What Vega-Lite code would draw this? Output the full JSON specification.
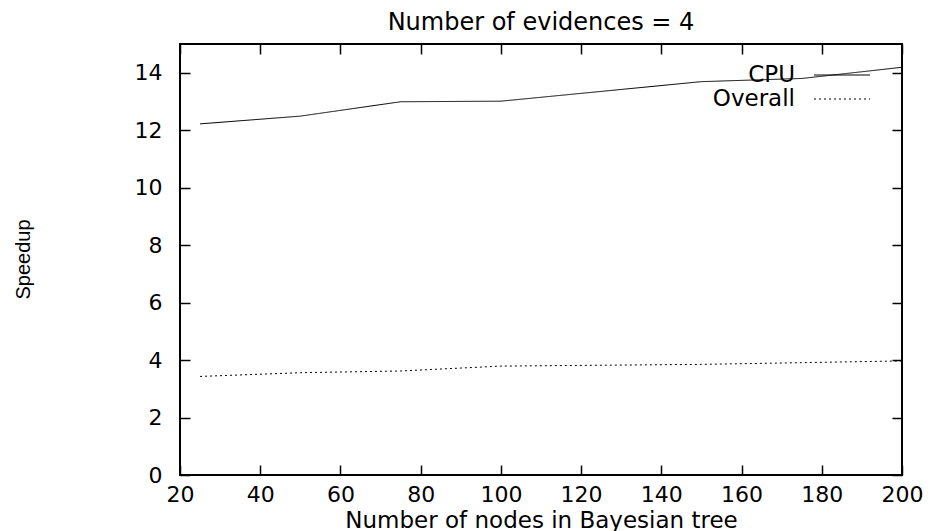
{
  "$schema": "https://vega.github.io/schema/vega-lite/v6.json",
  "autosize": {"type": "none"},
  "padding": {"left": 180, "top": 44, "right": 32, "bottom": 56},
  "width": 722,
  "height": 431,
  "background": "white",
  "title": {
    "text": "Number of evidences = 4",
    "font": "DejaVu Sans",
    "fontSize": 24,
    "fontWeight": "normal",
    "color": "black",
    "anchor": "middle",
    "offset": 8
  },
  "config": {
    "view": {"stroke": "black", "strokeWidth": 2},
    "axis": {
      "domain": false,
      "grid": false,
      "tickColor": "black",
      "tickWidth": 1.5,
      "tickSize": -10,
      "labelFont": "DejaVu Sans",
      "labelFontSize": 22,
      "labelColor": "black",
      "titleFont": "DejaVu Sans",
      "titleFontSize": 23,
      "titleFontWeight": "normal",
      "titleColor": "black"
    }
  },
  "data": {
    "values": [
      {"series": "CPU", "nodes": 25, "speedup": 12.22},
      {"series": "CPU", "nodes": 50, "speedup": 12.49},
      {"series": "CPU", "nodes": 75, "speedup": 12.99},
      {"series": "CPU", "nodes": 100, "speedup": 13.01},
      {"series": "CPU", "nodes": 150, "speedup": 13.69},
      {"series": "CPU", "nodes": 175, "speedup": 13.8},
      {"series": "CPU", "nodes": 200, "speedup": 14.19},
      {"series": "Overall", "nodes": 25, "speedup": 3.43},
      {"series": "Overall", "nodes": 50, "speedup": 3.56},
      {"series": "Overall", "nodes": 75, "speedup": 3.62},
      {"series": "Overall", "nodes": 100, "speedup": 3.79},
      {"series": "Overall", "nodes": 150, "speedup": 3.85},
      {"series": "Overall", "nodes": 175, "speedup": 3.91},
      {"series": "Overall", "nodes": 200, "speedup": 3.97}
    ]
  },
  "layer": [
    {
      "mark": {"type": "line", "color": "black", "strokeWidth": 1},
      "encoding": {
        "x": {
          "field": "nodes",
          "type": "quantitative",
          "scale": {"domain": [20, 200], "nice": false, "zero": false},
          "axis": {
            "title": "Number of nodes in Bayesian tree",
            "values": [20, 40, 60, 80, 100, 120, 140, 160, 180, 200],
            "labelPadding": 19,
            "labelFlush": false,
            "titleY": 52,
            "titleBaseline": "alphabetic"
          }
        },
        "y": {
          "field": "speedup",
          "type": "quantitative",
          "scale": {"domain": [0, 15], "nice": false},
          "axis": {
            "title": "Speedup",
            "titleFont": "Liberation Sans",
            "titleFontSize": 20,
            "values": [0, 2, 4, 6, 8, 10, 12, 14],
            "labelPadding": 28,
            "labelFlush": false,
            "titleX": -157,
            "titleY": 215,
            "titleAngle": -90,
            "titleAlign": "center",
            "titleBaseline": "middle"
          }
        },
        "strokeDash": {
          "field": "series",
          "type": "nominal",
          "scale": {"domain": ["CPU", "Overall"], "range": [[1, 0], [2, 3]]},
          "legend": {
            "title": null,
            "orient": "none",
            "legendX": 650.5,
            "legendY": 19.5,
            "padding": 0,
            "symbolType": "M-2.667,0H2.667",
            "symbolSize": 441,
            "symbolStrokeWidth": 1,
            "symbolStrokeColor": "black",
            "labelFont": "DejaVu Sans",
            "labelFontSize": 23,
            "labelColor": "black",
            "labelAlign": "right",
            "labelOffset": -58.5,
            "rowPadding": 0
          }
        }
      }
    },
    {
      "mark": {"type": "point", "opacity": 0},
      "encoding": {
        "x": {
          "field": "nodes",
          "type": "quantitative",
          "axis": {
            "orient": "top",
            "title": null,
            "labels": false,
            "values": [20, 40, 60, 80, 100, 120, 140, 160, 180, 200]
          }
        },
        "y": {
          "field": "speedup",
          "type": "quantitative",
          "axis": {
            "orient": "right",
            "title": null,
            "labels": false,
            "values": [0, 2, 4, 6, 8, 10, 12, 14]
          }
        }
      }
    }
  ],
  "resolve": {"axis": {"x": "independent", "y": "independent"}}
}
